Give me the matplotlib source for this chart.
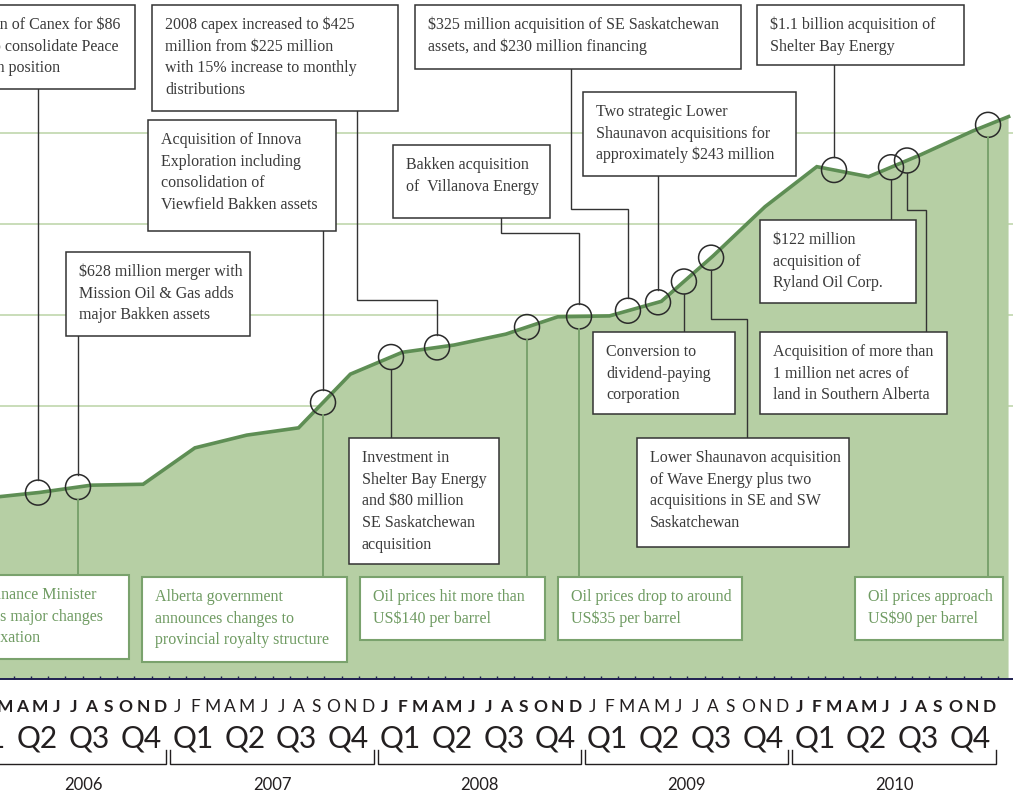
import numpy as np
import matplotlib
matplotlib.use("Agg")
import matplotlib.pyplot as plt
from matplotlib.patches import Rectangle

# ---------------- data ----------------
quarter_dates = [2006.125, 2006.375, 2006.625, 2006.875,
                 2007.125, 2007.375, 2007.625, 2007.875,
                 2008.125, 2008.375, 2008.625, 2008.875,
                 2009.125, 2009.375, 2009.625, 2009.875,
                 2010.125, 2010.375, 2010.625, 2010.875, 2011.05]
production = [19.9, 20.5, 21.3, 21.4,
              25.4, 26.8, 27.6, 33.5,
              35.9, 36.7, 37.9, 39.8,
              39.9, 41.5, 46.5, 51.9,
              56.3, 55.2, 57.6, 60.2, 61.8]
grid_values = [30, 40, 50, 60]

# event dates (decimal years) marked with circles on the line
event_dates = [2006.368, 2006.561, 2007.743, 2008.071, 2008.293, 2008.727,
               2008.978, 2009.214, 2009.359, 2009.484, 2009.615, 2010.208,
               2010.483, 2010.560, 2010.951]

black_notes = [
    (0, ["Acquisition of Canex for $86", "million to consolidate Peace", "River Arch position"]),
    (1, ["$628 million merger with", "Mission Oil & Gas adds", "major Bakken assets"]),
    (4, ["2008 capex increased to $425", "million from $225 million",
         "with 15% increase to monthly", "distributions"]),
    (2, ["Acquisition of Innova", "Exploration including", "consolidation of",
         "Viewfield Bakken assets"]),
    (3, ["Investment in", "Shelter Bay Energy", "and $80 million", "SE Saskatchewan",
         "acquisition"]),
    (6, ["Bakken acquisition", "of  Villanova Energy"]),
    (7, ["$325 million acquisition of SE Saskatchewan", "assets, and $230 million financing"]),
    (8, ["Two strategic Lower", "Shaunavon acquisitions for", "approximately $243 million"]),
    (9, ["Conversion to", "dividend-paying", "corporation"]),
    (10, ["Lower Shaunavon acquisition", "of Wave Energy plus two",
          "acquisitions in SE and SW", "Saskatchewan"]),
    (11, ["$1.1 billion acquisition of", "Shelter Bay Energy"]),
    (12, ["$122 million", "acquisition of", "Ryland Oil Corp."]),
    (13, ["Acquisition of more than", "1 million net acres of", "land in Southern Alberta"]),
]
green_notes = [
    (1, ["Federal Finance Minister", "announces major changes", "to income trust taxation"]),
    (2, ["Alberta government", "announces changes to", "provincial royalty structure"]),
    (5, ["Oil prices hit more than", "US$140 per barrel"]),
    (6, ["Oil prices drop to around", "US$35 per barrel"]),
    (14, ["Oil prices approach", "US$90 per barrel"]),
]

years = [2006, 2007, 2008, 2009, 2010]
bold_years = [2006, 2008, 2010]
month_letters = ["J", "F", "M", "A", "M", "J", "J", "A", "S", "O", "N", "D"]
quarter_labels = ["Q1", "Q2", "Q3", "Q4"]

# ---------------- layout (pixels, top-left origin) ----------------
W, H = 1013, 799
BASE = 679
black_layout = [
    dict(box=(-150, 5, 135, 89), cut=[10, 11, 11], vis=[0, 5, 9]),
    dict(box=(66, 252, 250, 336)),
    dict(box=(152, 5, 398, 111), attach=357, elbow=300),
    dict(box=(148, 120, 336, 231)),
    dict(box=(349, 438, 499, 564)),
    dict(box=(393, 145, 550, 218), attach=501, elbow=233),
    dict(box=(415, 5, 741, 69), attach=571, elbow=209),
    dict(box=(583, 92, 796, 176)),
    dict(box=(593, 332, 735, 414)),
    dict(box=(637, 438, 849, 547), attach=747, elbow=319),
    dict(box=(757, 5, 964, 65)),
    dict(box=(760, 220, 916, 303)),
    dict(box=(760, 332, 947, 414), attach=926, elbow=210),
]
green_layout = [
    dict(box=(-150, 575, 129, 659), cut=[10, 8, 18], vis=[1, 0, 0]),
    dict(box=(142, 577, 347, 662)),
    dict(box=(360, 577, 545, 640)),
    dict(box=(558, 577, 742, 640)),
    dict(box=(855, 577, 1003, 640)),
]

FILL = "#b6cfa4"
LINE = "#5e8e54"
GRID = "#c9ddb9"
GREEN_TXT = "#6f9b62"
GREEN_EDGE = "#7aa26d"
DARK = "#333333"
TXT = "#3a3a3a"
NAVY = "#1f2050"
SERIF = "Liberation Serif"
SANS = "Lato"
FS = 11.5
R = 12.5  # circle radius in px

fig = plt.figure(figsize=(W / 100, H / 100), dpi=100)
ax = fig.add_axes([0, (H - BASE) / H, 1, BASE / H])
ax.set_xlim(2006.1848, 2011.0714)
ax.set_ylim(0, BASE / 9.1)

for g in grid_values:
    ax.axhline(g, color=GRID, lw=1.4, zorder=0.8)
ax.fill_between(quarter_dates, 0, production, color=FILL, lw=0, zorder=1.2)
ax.plot(quarter_dates, production, color=LINE, lw=2.6, zorder=3,
        solid_joinstyle="miter")

ev_y = np.interp(event_dates, quarter_dates, production)
ax.scatter(event_dates, ev_y, s=(2 * R * 0.72) ** 2, facecolors="none",
           edgecolors="#2a2a2a", linewidths=1.1, zorder=6)

month_bounds = [y + m / 12 for y in years + [2011] for m in range(12)]
month_bounds = [b for b in month_bounds if 2006.19 < b < 2011.07]
ax.set_xticks([])
ax.set_xticks(month_bounds, minor=True)
ax.tick_params(which="minor", direction="in", length=2.4, width=1.0, color=NAVY,
               bottom=True, labelbottom=False)
ax.set_yticks([])
for s in ["top", "left", "right"]:
    ax.spines[s].set_visible(False)
ax.spines["bottom"].set_color(NAVY)
ax.spines["bottom"].set_linewidth(1.4)
ax.patch.set_alpha(0)

# overlay in pixel coordinates
ov = fig.add_axes([0, 0, 1, 1], zorder=3)
ov.set_xlim(0, W)
ov.set_ylim(H, 0)
ov.axis("off")


def to_px(x, y):
    d = ax.transData.transform((x, y))
    return d[0], H - d[1]


circ = [to_px(x, y) for x, y in zip(event_dates, ev_y)]
renderer = fig.canvas.get_renderer()


def text_width(s, **kw):
    t = ov.text(0, 0, s, **kw)
    w = t.get_window_extent(renderer=renderer).width
    t.remove()
    return w


def draw_box(lines, lay, edge, tcolor, elw):
    x0, y0, x1, y1 = lay["box"]
    ov.add_patch(Rectangle((x0, y0), x1 - x0, y1 - y0, facecolor="white",
                           edgecolor=edge, lw=elw, zorder=4))
    kw = dict(fontsize=FS, family=SERIF, color=tcolor)
    for i, ln in enumerate(lines):
        yb = y0 + 19.5 + i * 21.7 + 4.5
        if "cut" in lay:
            suffix = ln[lay["cut"][i]:]
            w = text_width(suffix, **kw)
            ov.text(lay["vis"][i] + w, yb, ln, ha="right", va="baseline", zorder=5, **kw)
        else:
            ov.text(x0 + 13, yb, ln, ha="left", va="baseline", zorder=5, **kw)


for (idx, lines), lay in zip(black_notes, black_layout):
    draw_box(lines, lay, DARK, TXT, 1.1)
    cx, cy = circ[idx]
    x0, y0, x1, y1 = lay["box"]
    if y1 < cy:  # box above circle
        start_y, end_y = y1, cy - R
    else:
        start_y, end_y = y0, cy + R
    if "elbow" in lay:
        ax_ = lay["attach"]
        xs = [ax_, ax_, cx, cx]
        ys = [start_y, lay["elbow"], lay["elbow"], end_y]
    else:
        xs = [cx, cx]
        ys = [start_y, end_y]
    ov.plot(xs, ys, color=DARK, lw=1.0, zorder=3.5, solid_joinstyle="miter")

for (idx, lines), lay in zip(green_notes, green_layout):
    draw_box(lines, lay, GREEN_EDGE, GREEN_TXT, 1.5)
    cx, cy = circ[idx]
    ov.plot([cx, cx], [cy + R, lay["box"][1]], color=GREEN_EDGE, lw=1.4, zorder=3.5)

# month, quarter, year labels
for yr in years:
    bold = yr in bold_years
    for m, letter in enumerate(month_letters):
        px, _ = to_px(yr + (m + 0.5) / 12, 0)
        if -15 < px < W + 15:
            ov.text(px, 712, letter, ha="center", va="baseline", fontsize=12.5,
                    family=SANS, fontweight="bold" if bold else "normal",
                    color="#231f20")
    for q, ql in enumerate(quarter_labels):
        px, _ = to_px(yr + (q + 0.5) / 4, 0)
        ov.text(px - 2, 748, ql, ha="center", va="baseline", fontsize=21.5,
                family=SANS, color="#231f20")
    xs_, _ = to_px(yr, 0)
    xe_, _ = to_px(yr + 1, 0)
    bl, br = xs_ + 1.5, xe_ - 2.5
    ov.plot([bl, bl, br, br], [750, 764, 764, 750], color="#231f20", lw=1.0,
            solid_joinstyle="miter")
    vl, vr = max(bl, 0), min(br, W)
    ov.text((vl + vr) / 2, 790, str(yr), ha="center", va="baseline", fontsize=12,
            family=SANS, color="#231f20")

fig.savefig("out.png", dpi=100)
